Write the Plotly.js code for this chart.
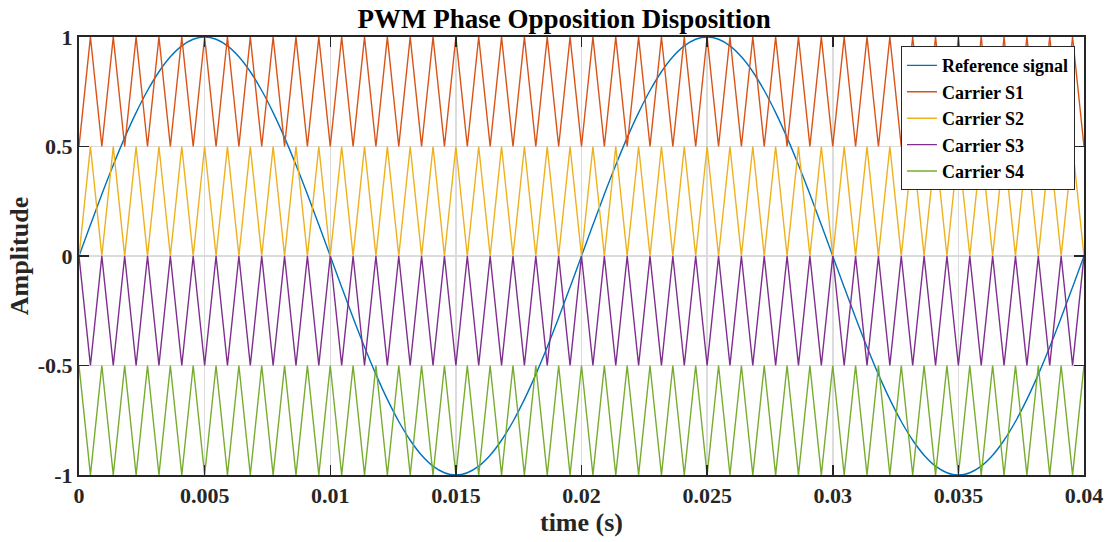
<!DOCTYPE html>
<html>
<head>
<meta charset="utf-8">
<script src="https://cdn.plot.ly/plotly-3.0.1.min.js"></script>
<style>html,body{margin:0;padding:0;background:#fff;}#chart{width:1117px;height:542px;}</style>
</head>
<body>
<div id="chart"></div>
<script>
// Sample times (s): carrier vertices, 1100 Hz triangular carriers over 0..0.04 s
const time = [
  0, 0.000455, 0.000909, 0.001364, 0.001818, 0.002273, 0.002727, 0.003182, 0.003636, 0.004091, 0.004545,
  0.005, 0.005455, 0.005909, 0.006364, 0.006818, 0.007273, 0.007727, 0.008182, 0.008636, 0.009091, 0.009545,
  0.01, 0.010455, 0.010909, 0.011364, 0.011818, 0.012273, 0.012727, 0.013182, 0.013636, 0.014091, 0.014545,
  0.015, 0.015455, 0.015909, 0.016364, 0.016818, 0.017273, 0.017727, 0.018182, 0.018636, 0.019091, 0.019545,
  0.02, 0.020455, 0.020909, 0.021364, 0.021818, 0.022273, 0.022727, 0.023182, 0.023636, 0.024091, 0.024545,
  0.025, 0.025455, 0.025909, 0.026364, 0.026818, 0.027273, 0.027727, 0.028182, 0.028636, 0.029091, 0.029545,
  0.03, 0.030455, 0.030909, 0.031364, 0.031818, 0.032273, 0.032727, 0.033182, 0.033636, 0.034091, 0.034545,
  0.035, 0.035455, 0.035909, 0.036364, 0.036818, 0.037273, 0.037727, 0.038182, 0.038636, 0.039091, 0.039545,
  0.04
];

// 50 Hz reference sine sampled at the same times
const referenceSignal = [
  0, 0.1423, 0.2817, 0.4154, 0.5406, 0.6549, 0.7557, 0.8413, 0.9096, 0.9595, 0.9898,
  1, 0.9898, 0.9595, 0.9096, 0.8413, 0.7557, 0.6549, 0.5406, 0.4154, 0.2817, 0.1423,
  0, -0.1423, -0.2817, -0.4154, -0.5406, -0.6549, -0.7557, -0.8413, -0.9096, -0.9595, -0.9898,
  -1, -0.9898, -0.9595, -0.9096, -0.8413, -0.7557, -0.6549, -0.5406, -0.4154, -0.2817, -0.1423,
  0, 0.1423, 0.2817, 0.4154, 0.5406, 0.6549, 0.7557, 0.8413, 0.9096, 0.9595, 0.9898,
  1, 0.9898, 0.9595, 0.9096, 0.8413, 0.7557, 0.6549, 0.5406, 0.4154, 0.2817, 0.1423,
  0, -0.1423, -0.2817, -0.4154, -0.5406, -0.6549, -0.7557, -0.8413, -0.9096, -0.9595, -0.9898,
  -1, -0.9898, -0.9595, -0.9096, -0.8413, -0.7557, -0.6549, -0.5406, -0.4154, -0.2817, -0.1423,
  0
];

const carrierS1 = [
  0.5,1,0.5,1,0.5,1,0.5,1,0.5,1,0.5, 1,0.5,1,0.5,1,0.5,1,0.5,1,0.5,1,
  0.5,1,0.5,1,0.5,1,0.5,1,0.5,1,0.5, 1,0.5,1,0.5,1,0.5,1,0.5,1,0.5,1,
  0.5,1,0.5,1,0.5,1,0.5,1,0.5,1,0.5, 1,0.5,1,0.5,1,0.5,1,0.5,1,0.5,1,
  0.5,1,0.5,1,0.5,1,0.5,1,0.5,1,0.5, 1,0.5,1,0.5,1,0.5,1,0.5,1,0.5,1,
  0.5
];
const carrierS2 = [
  0,0.5,0,0.5,0,0.5,0,0.5,0,0.5,0, 0.5,0,0.5,0,0.5,0,0.5,0,0.5,0,0.5,
  0,0.5,0,0.5,0,0.5,0,0.5,0,0.5,0, 0.5,0,0.5,0,0.5,0,0.5,0,0.5,0,0.5,
  0,0.5,0,0.5,0,0.5,0,0.5,0,0.5,0, 0.5,0,0.5,0,0.5,0,0.5,0,0.5,0,0.5,
  0,0.5,0,0.5,0,0.5,0,0.5,0,0.5,0, 0.5,0,0.5,0,0.5,0,0.5,0,0.5,0,0.5,
  0
];
const carrierS3 = [
  0,-0.5,0,-0.5,0,-0.5,0,-0.5,0,-0.5,0, -0.5,0,-0.5,0,-0.5,0,-0.5,0,-0.5,0,-0.5,
  0,-0.5,0,-0.5,0,-0.5,0,-0.5,0,-0.5,0, -0.5,0,-0.5,0,-0.5,0,-0.5,0,-0.5,0,-0.5,
  0,-0.5,0,-0.5,0,-0.5,0,-0.5,0,-0.5,0, -0.5,0,-0.5,0,-0.5,0,-0.5,0,-0.5,0,-0.5,
  0,-0.5,0,-0.5,0,-0.5,0,-0.5,0,-0.5,0, -0.5,0,-0.5,0,-0.5,0,-0.5,0,-0.5,0,-0.5,
  0
];
const carrierS4 = [
  -0.5,-1,-0.5,-1,-0.5,-1,-0.5,-1,-0.5,-1,-0.5, -1,-0.5,-1,-0.5,-1,-0.5,-1,-0.5,-1,-0.5,-1,
  -0.5,-1,-0.5,-1,-0.5,-1,-0.5,-1,-0.5,-1,-0.5, -1,-0.5,-1,-0.5,-1,-0.5,-1,-0.5,-1,-0.5,-1,
  -0.5,-1,-0.5,-1,-0.5,-1,-0.5,-1,-0.5,-1,-0.5, -1,-0.5,-1,-0.5,-1,-0.5,-1,-0.5,-1,-0.5,-1,
  -0.5,-1,-0.5,-1,-0.5,-1,-0.5,-1,-0.5,-1,-0.5, -1,-0.5,-1,-0.5,-1,-0.5,-1,-0.5,-1,-0.5,-1,
  -0.5
];

const seriesNames = ["Reference signal", "Carrier S1", "Carrier S2", "Carrier S3", "Carrier S4"];
const xTickValues = [0, 0.005, 0.01, 0.015, 0.02, 0.025, 0.03, 0.035, 0.04];
const xTickLabels = ["0", "0.005", "0.01", "0.015", "0.02", "0.025", "0.03", "0.035", "0.04"];
const yTickValues = [-1, -0.5, 0, 0.5, 1];
const yTickLabels = ["-1", "-0.5", "0", "0.5", "1"];

const colors = ["#0072BD", "#D95319", "#EDB120", "#7E2F8E", "#77AC30"];
const ys = [referenceSignal, carrierS1, carrierS2, carrierS3, carrierS4];

const FONT = "'Liberation Serif', 'Times New Roman', serif";

const traces = ys.map((y, i) => ({
  x: time, y: y, type: "scatter", mode: "lines", name: seriesNames[i],
  line: { color: colors[i], width: 1.4, shape: i === 0 ? "spline" : "linear" }
}));

const axisCommon = {
  showline: true, linecolor: "#262626", linewidth: 2, mirror: "allticks",
  ticks: "inside", ticklen: 10, tickwidth: 1.5, tickcolor: "#262626",
  showgrid: true, gridcolor: "#dcdcdc", gridwidth: 1.5, zeroline: false,
  tickfont: { family: FONT, size: 22, color: "#262626", weight: "bold" }
};

const layout = {
  width: 1117, height: 542,
  margin: { l: 79, r: 33, t: 37, b: 67 },
  paper_bgcolor: "#fff", plot_bgcolor: "#fff",
  title: { text: "<b>PWM Phase Opposition Disposition</b>", font: { family: FONT, size: 27, color: "#000" },
           x: 0.505, xanchor: "center", y: 0.966, yanchor: "middle" },
  xaxis: Object.assign({}, axisCommon, {
    range: [0, 0.04], tickvals: xTickValues, ticktext: xTickLabels,
    title: { text: "<b>time (s)</b>", font: { family: FONT, size: 26, color: "#262626" }, standoff: 4 }
  }),
  yaxis: Object.assign({}, axisCommon, {
    range: [-1, 1], tickvals: yTickValues, ticktext: yTickLabels,
    title: { text: "<b>Amplitude</b>", font: { family: FONT, size: 26, color: "#262626" }, standoff: 2 }
  }),
  showlegend: true,
  legend: {
    x: 0.991, xanchor: "right", y: 0.979, yanchor: "top",
    bgcolor: "#fff", bordercolor: "#262626", borderwidth: 1,
    font: { family: FONT, size: 18, color: "#000", weight: "bold" },
    itemwidth: 30, tracegroupgap: 0
  }
};

Plotly.newPlot("chart", traces, layout, { displayModeBar: false, staticPlot: true });
</script>
</body>
</html>
